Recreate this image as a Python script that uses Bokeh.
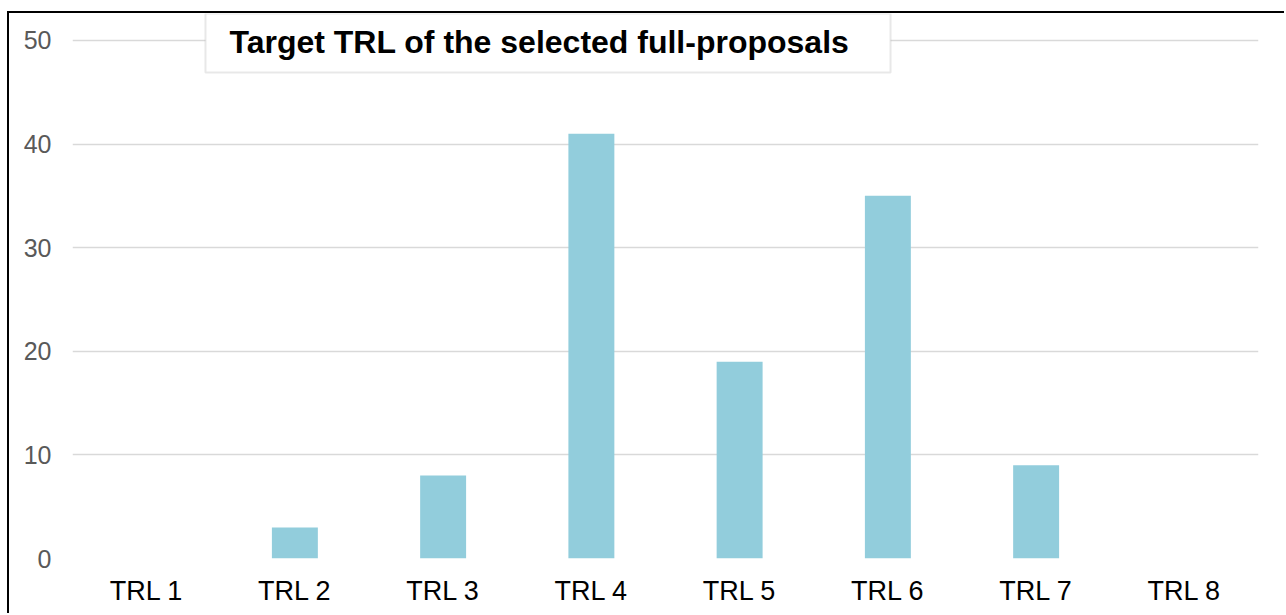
from bokeh.plotting import figure
from bokeh.models import FactorRange, Range1d, FixedTicker, BoxAnnotation, Label
from bokeh.embed import file_html
from bokeh.resources import INLINE

# ---- data ----
categories = ["TRL 1", "TRL 2", "TRL 3", "TRL 4", "TRL 5", "TRL 6", "TRL 7", "TRL 8"]
counts = [0, 3, 8, 41, 19, 35, 9, 0]
y_ticks = [0, 10, 20, 30, 40, 50]
title_text = "Target TRL of the selected full-proposals"

FONT = "Liberation Sans"

p = figure(
    x_range=FactorRange(*categories, range_padding=0),
    y_range=Range1d(0, 52.6),
    width=1277, height=602,
    min_border_left=63, min_border_right=28,
    min_border_top=0, min_border_bottom=57,
    output_backend="svg", toolbar_location=None,
)
p.styles = {"border-top": "2px solid black", "border-left": "2px solid black",
            "margin-top": "11px", "margin-left": "7px"}

p.vbar(x=categories, top=counts, width=0.31, fill_color="#92CDDC", line_color=None)

p.outline_line_color = None
p.background_fill_color = "white"
p.border_fill_color = "white"

p.xgrid.grid_line_color = None
p.ygrid.grid_line_color = "#D9D9D9"
p.ygrid.grid_line_width = 1.6

p.yaxis.ticker = FixedTicker(ticks=y_ticks)
p.yaxis.axis_line_color = None
p.yaxis.major_tick_line_color = None
p.yaxis.minor_tick_line_color = None
p.yaxis.major_tick_out = 0
p.yaxis.major_label_standoff = 21
p.yaxis.major_label_text_font = FONT
p.yaxis.major_label_text_font_size = "25px"
p.yaxis.major_label_text_color = "#595959"

p.xaxis.axis_line_color = None
p.xaxis.major_tick_line_color = None
p.xaxis.minor_tick_line_color = None
p.xaxis.major_tick_out = 0
p.xaxis.major_label_standoff = 17
p.xaxis.major_label_text_font = FONT
p.xaxis.major_label_text_font_size = "27px"
p.xaxis.major_label_text_color = "black"

# title box
box = BoxAnnotation(left=0.897, right=5.518, top=52.6, bottom=46.9,
                    fill_color="white", fill_alpha=1.0,
                    line_color="#B4B4B4", line_width=2)
p.add_layout(box)
lbl = Label(x=1.059, y=49.85, text=title_text, text_font=FONT,
            text_font_style="bold", text_font_size="32px", text_color="black",
            text_baseline="middle", text_align="left")
p.add_layout(lbl)

open("out.html", "w").write(file_html(p, INLINE))
